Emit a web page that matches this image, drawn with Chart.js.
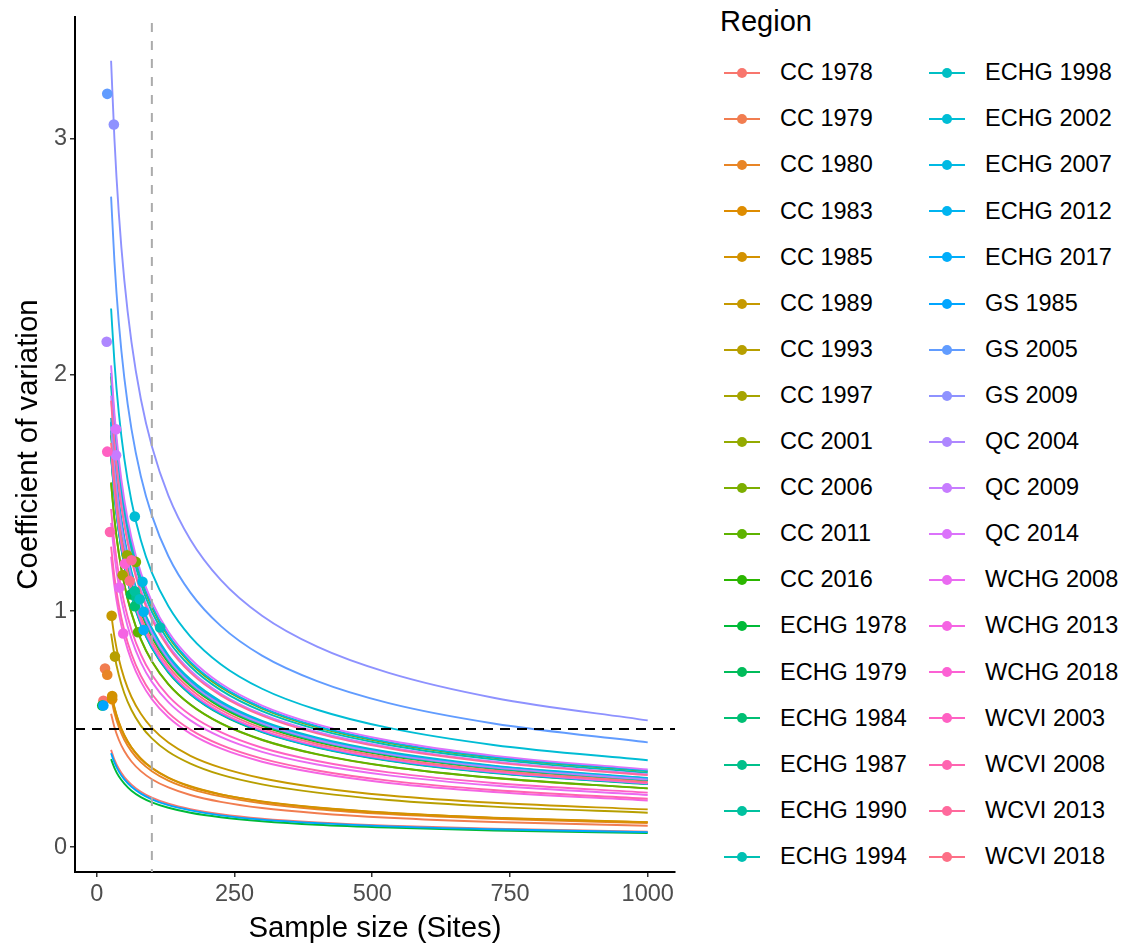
<!DOCTYPE html>
<html>
<head>
<meta charset="utf-8">
<script src="https://cdn.jsdelivr.net/npm/chart.js@4/dist/chart.umd.min.js"></script>
<style>
  html, body { margin: 0; padding: 0; background: #fff; }
  #wrap { position: relative; width: 1126px; height: 947px; background: #fff; overflow: hidden;
          font-family: "Liberation Sans", Arial, sans-serif; }
  #plot { position: absolute; left: 0; top: 0; }
  .lg-title { position: absolute; left: 720px; top: 7px; font-size: 29px; line-height: 29px; color: #000; white-space: nowrap; }
  .lg-line { position: absolute; width: 36px; height: 2px; }
  .lg-dot { position: absolute; width: 10px; height: 10px; border-radius: 50%; }
  .lg-text { position: absolute; font-size: 23.5px; line-height: 23.5px; color: #000; white-space: nowrap; }
</style>
</head>
<body>
<div id="wrap">
  <canvas id="plot" width="700" height="947"></canvas>
  <div id="legend"></div>
</div>
<script>
// Survey regions and years
const regions = [
  "CC 1978", "CC 1979", "CC 1980", "CC 1983", "CC 1985", "CC 1989", "CC 1993", "CC 1997", "CC 2001",
  "CC 2006", "CC 2011", "CC 2016", "ECHG 1978", "ECHG 1979", "ECHG 1984", "ECHG 1987", "ECHG 1990", "ECHG 1994",
  "ECHG 1998", "ECHG 2002", "ECHG 2007", "ECHG 2012", "ECHG 2017", "GS 1985", "GS 2005", "GS 2009",
  "QC 2004", "QC 2009", "QC 2014", "WCHG 2008", "WCHG 2013", "WCHG 2018", "WCVI 2003", "WCVI 2008",
  "WCVI 2013", "WCVI 2018"
];

// Observed number of sites and coefficient of variation for each survey
const observedSites = [12, 15, 19, 28, 28, 27, 33, 47, 55, 71, 75, 68, 10, 62, 69, 72, 69, 115,
                       78, 69, 83, 85, 85, 12, 19, 31, 18, 35, 35, 41, 48, 51, 19, 24, 63, 60];
const observedCV = [0.62, 0.757, 0.73, 0.627, 0.64, 0.98, 0.807, 1.152, 1.236, 1.208, 0.91, 1.08,
                    0.60, 1.07, 1.02, 1.06, 1.084, 0.93, 1.05, 1.40, 1.124, 0.997, 0.92, 0.60,
                    3.19, 3.06, 2.14, 1.66, 1.77, 1.10, 0.905, 1.20, 1.675, 1.335, 1.215, 1.127];

// Projected CV at these sample sizes (one row per survey)
const sampleSizes = [26, 32, 40, 50, 63, 80, 100, 130, 170, 225, 300, 400, 530, 720, 1000];
const projectedCV = [
  [0.412, 0.371, 0.332, 0.297, 0.265, 0.235, 0.210, 0.184, 0.161, 0.140, 0.121, 0.105, 0.091, 0.078, 0.066],
  [0.565, 0.509, 0.455, 0.407, 0.363, 0.322, 0.288, 0.253, 0.221, 0.192, 0.166, 0.144, 0.125, 0.107, 0.091],
  [0.632, 0.569, 0.509, 0.455, 0.406, 0.360, 0.322, 0.282, 0.247, 0.215, 0.186, 0.161, 0.140, 0.120, 0.102],
  [0.655, 0.590, 0.528, 0.472, 0.421, 0.373, 0.334, 0.293, 0.256, 0.223, 0.193, 0.167, 0.145, 0.124, 0.106],
  [0.659, 0.594, 0.531, 0.475, 0.423, 0.376, 0.336, 0.295, 0.258, 0.224, 0.194, 0.168, 0.146, 0.125, 0.106],
  [0.990, 0.893, 0.798, 0.714, 0.636, 0.565, 0.505, 0.443, 0.387, 0.337, 0.292, 0.253, 0.219, 0.188, 0.160],
  [0.904, 0.815, 0.729, 0.652, 0.581, 0.515, 0.461, 0.404, 0.354, 0.307, 0.266, 0.231, 0.200, 0.172, 0.146],
  [1.541, 1.389, 1.243, 1.112, 0.990, 0.879, 0.786, 0.689, 0.603, 0.524, 0.454, 0.393, 0.341, 0.293, 0.249],
  [1.798, 1.621, 1.450, 1.297, 1.155, 1.025, 0.917, 0.804, 0.703, 0.611, 0.529, 0.459, 0.398, 0.342, 0.290],
  [1.993, 1.796, 1.606, 1.437, 1.280, 1.136, 1.016, 0.891, 0.779, 0.677, 0.587, 0.508, 0.441, 0.379, 0.321],
  [1.545, 1.393, 1.246, 1.114, 0.993, 0.881, 0.788, 0.691, 0.604, 0.525, 0.455, 0.394, 0.342, 0.294, 0.249],
  [1.745, 1.573, 1.407, 1.259, 1.121, 0.995, 0.890, 0.781, 0.683, 0.593, 0.514, 0.445, 0.387, 0.332, 0.281],
  [0.373, 0.336, 0.300, 0.269, 0.239, 0.212, 0.190, 0.167, 0.146, 0.127, 0.110, 0.095, 0.083, 0.071, 0.060],
  [1.653, 1.490, 1.333, 1.192, 1.062, 0.942, 0.843, 0.739, 0.647, 0.562, 0.487, 0.422, 0.366, 0.314, 0.267],
  [1.661, 1.497, 1.339, 1.198, 1.067, 0.947, 0.847, 0.743, 0.650, 0.565, 0.489, 0.424, 0.368, 0.316, 0.268],
  [1.763, 1.589, 1.421, 1.271, 1.133, 1.005, 0.899, 0.789, 0.690, 0.599, 0.519, 0.450, 0.391, 0.335, 0.284],
  [1.765, 1.591, 1.423, 1.273, 1.134, 1.006, 0.900, 0.789, 0.690, 0.600, 0.520, 0.450, 0.391, 0.335, 0.285],
  [1.955, 1.762, 1.576, 1.410, 1.256, 1.115, 0.997, 0.874, 0.765, 0.665, 0.576, 0.499, 0.433, 0.372, 0.315],
  [1.818, 1.639, 1.466, 1.311, 1.168, 1.036, 0.927, 0.813, 0.711, 0.618, 0.535, 0.464, 0.403, 0.345, 0.293],
  [2.281, 2.056, 1.839, 1.645, 1.465, 1.300, 1.163, 1.020, 0.892, 0.775, 0.671, 0.582, 0.505, 0.433, 0.368],
  [2.008, 1.810, 1.619, 1.448, 1.290, 1.145, 1.024, 0.898, 0.785, 0.683, 0.591, 0.512, 0.445, 0.382, 0.324],
  [1.802, 1.625, 1.453, 1.300, 1.158, 1.027, 0.919, 0.806, 0.705, 0.613, 0.531, 0.460, 0.399, 0.343, 0.291],
  [1.663, 1.499, 1.341, 1.199, 1.068, 0.948, 0.848, 0.744, 0.650, 0.565, 0.490, 0.424, 0.368, 0.316, 0.268],
  [0.398, 0.359, 0.321, 0.287, 0.256, 0.227, 0.203, 0.178, 0.156, 0.135, 0.117, 0.102, 0.088, 0.076, 0.064],
  [2.755, 2.484, 2.221, 1.987, 1.770, 1.571, 1.405, 1.232, 1.078, 0.937, 0.811, 0.703, 0.610, 0.524, 0.444],
  [3.330, 3.002, 2.685, 2.401, 2.139, 1.898, 1.698, 1.489, 1.302, 1.132, 0.980, 0.849, 0.738, 0.633, 0.537],
  [1.781, 1.605, 1.436, 1.284, 1.144, 1.015, 0.908, 0.796, 0.696, 0.605, 0.524, 0.454, 0.394, 0.338, 0.287],
  [1.912, 1.724, 1.542, 1.379, 1.228, 1.090, 0.975, 0.855, 0.748, 0.650, 0.563, 0.488, 0.424, 0.363, 0.308],
  [2.040, 1.839, 1.644, 1.471, 1.310, 1.163, 1.040, 0.912, 0.798, 0.693, 0.600, 0.520, 0.452, 0.388, 0.329],
  [1.373, 1.237, 1.107, 0.990, 0.882, 0.783, 0.700, 0.614, 0.537, 0.467, 0.404, 0.350, 0.304, 0.261, 0.221],
  [1.230, 1.108, 0.991, 0.887, 0.790, 0.701, 0.627, 0.550, 0.481, 0.418, 0.362, 0.314, 0.272, 0.234, 0.198],
  [1.681, 1.515, 1.355, 1.212, 1.080, 0.958, 0.857, 0.752, 0.657, 0.571, 0.495, 0.429, 0.372, 0.319, 0.271],
  [1.432, 1.290, 1.154, 1.032, 0.920, 0.816, 0.730, 0.640, 0.560, 0.487, 0.421, 0.365, 0.317, 0.272, 0.231],
  [1.273, 1.147, 1.026, 0.918, 0.818, 0.726, 0.649, 0.569, 0.498, 0.433, 0.375, 0.325, 0.282, 0.242, 0.205],
  [1.891, 1.704, 1.524, 1.363, 1.215, 1.078, 0.964, 0.846, 0.739, 0.643, 0.557, 0.482, 0.419, 0.359, 0.305],
  [1.712, 1.543, 1.380, 1.235, 1.100, 0.976, 0.873, 0.766, 0.670, 0.582, 0.504, 0.437, 0.379, 0.325, 0.276]
];

// Axis ticks and reference levels
const xTicks = [0, 250, 500, 750, 1000];
const yTicks = [0, 1, 2, 3];
const cvTarget = 0.5;
const siteTarget = 100;

// Evenly spaced hues in HCL space (l = 65, c = 100), as in the default discrete palette
function hcl(h, c, l) {
  const hr = h * Math.PI / 180;
  const u = c * Math.cos(hr), v = c * Math.sin(hr);
  const Xn = 95.047, Yn = 100, Zn = 108.883;
  const den = Xn + 15 * Yn + 3 * Zn;
  const un = 4 * Xn / den, vn = 9 * Yn / den;
  const Y = l > 8 ? Yn * Math.pow((l + 16) / 116, 3) : Yn * l / 903.3;
  const up = u / (13 * l) + un, vp = v / (13 * l) + vn;
  const X = Y * 9 * up / (4 * vp);
  const Z = Y * (12 - 3 * up - 20 * vp) / (4 * vp);
  const x = X / 100, y = Y / 100, z = Z / 100;
  const lin = [
    3.2404542 * x - 1.5371385 * y - 0.4985314 * z,
    -0.9692660 * x + 1.8760108 * y + 0.0415560 * z,
    0.0556434 * x - 0.2040259 * y + 1.0572252 * z
  ];
  const ch = lin.map(t => {
    const g = t <= 0.0031308 ? 12.92 * t : 1.055 * Math.pow(t, 1 / 2.4) - 0.055;
    return Math.round(Math.min(1, Math.max(0, g)) * 255);
  });
  return "rgb(" + ch.join(",") + ")";
}
const palette = regions.map((_, i) => hcl(15 + 360 * i / regions.length, 100, 65));

// Datasets: observed points on top, projected curves underneath
const datasets = [];
regions.forEach((name, i) => {
  datasets.push({
    label: name + " observed",
    type: "scatter",
    data: [{ x: observedSites[i], y: observedCV[i] }],
    backgroundColor: palette[i],
    borderColor: palette[i],
    borderWidth: 0,
    pointRadius: 5.3,
    order: 50 - i
  });
});
regions.forEach((name, i) => {
  datasets.push({
    label: name,
    type: "scatter",
    showLine: true,
    data: sampleSizes.map((n, k) => ({ x: n, y: projectedCV[i][k] })),
    borderColor: palette[i],
    backgroundColor: palette[i],
    borderWidth: 1.9,
    pointRadius: 0,
    cubicInterpolationMode: "monotone",
    order: 100 - i
  });
});

// Dashed reference lines for the CV target and the site count
const refLines = {
  id: "refLines",
  afterDatasetsDraw(chart) {
    const { ctx, chartArea, scales } = chart;
    ctx.save();
    ctx.lineWidth = 2;
    ctx.setLineDash([9, 9]);
    ctx.strokeStyle = "#ababab";
    const px = scales.x.getPixelForValue(siteTarget);
    ctx.beginPath();
    ctx.moveTo(px, chartArea.top + 6);
    ctx.lineTo(px, chartArea.bottom);
    ctx.stroke();
    ctx.setLineDash([10, 7]);
    ctx.strokeStyle = "#000";
    const py = scales.y.getPixelForValue(cvTarget);
    ctx.beginPath();
    ctx.moveTo(chartArea.left, py);
    ctx.lineTo(chartArea.right, py);
    ctx.stroke();
    ctx.restore();
  }
};

const fontFamily = "'Liberation Sans', Arial, sans-serif";
Chart.defaults.font.family = fontFamily;

new Chart(document.getElementById("plot"), {
  type: "scatter",
  data: { datasets },
  options: {
    responsive: false,
    animation: false,
    devicePixelRatio: 1,
    layout: { padding: { top: 12, right: 25, left: 0, bottom: 0 } },
    plugins: { legend: { display: false }, tooltip: { enabled: false } },
    scales: {
      x: {
        type: "linear",
        min: -39.5,
        max: 1049.5,
        afterFit: s => { s.height = 75; },
        afterBuildTicks: s => { s.ticks = xTicks.map(v => ({ value: v })); },
        ticks: { color: "#4d4d4d", font: { size: 23.5 }, padding: 3, maxRotation: 0, autoSkip: false,
                 callback: v => String(v) },
        grid: { display: true, drawOnChartArea: false, drawTicks: true, tickLength: 5, color: "#333", lineWidth: 1.5 },
        border: { display: true, color: "#000", width: 2 },
        title: { display: true, text: "Sample size (Sites)", color: "#000", font: { size: 29.4 }, padding: { top: 0, bottom: 0 } }
      },
      y: {
        type: "linear",
        min: -0.105,
        max: 3.515,
        afterFit: s => { s.width = 75; },
        afterBuildTicks: s => { s.ticks = yTicks.map(v => ({ value: v })); },
        ticks: { color: "#4d4d4d", font: { size: 23.5 }, padding: 3, autoSkip: false,
                 callback: v => String(v) },
        grid: { display: true, drawOnChartArea: false, drawTicks: true, tickLength: 5, color: "#333", lineWidth: 1.5 },
        border: { display: true, color: "#000", width: 2 },
        title: { display: true, text: "Coefficient of variation", color: "#000", font: { size: 29.4 }, padding: { top: 11, bottom: 0 } }
      }
    }
  },
  plugins: [refLines]
});

// Two-column legend keyed by region
const legend = document.getElementById("legend");
const title = document.createElement("div");
title.className = "lg-title";
title.textContent = "Region";
legend.appendChild(title);
const perColumn = Math.ceil(regions.length / 2);
regions.forEach((name, i) => {
  const col = Math.floor(i / perColumn), row = i % perColumn;
  const cy = 73 + row * 46.1;
  const lineLeft = col === 0 ? 724 : 929;
  const textLeft = col === 0 ? 780 : 985;
  const line = document.createElement("div");
  line.className = "lg-line";
  line.style.left = lineLeft + "px";
  line.style.top = (cy - 1) + "px";
  line.style.background = palette[i];
  const dot = document.createElement("div");
  dot.className = "lg-dot";
  dot.style.left = (lineLeft + 13) + "px";
  dot.style.top = (cy - 5) + "px";
  dot.style.background = palette[i];
  const text = document.createElement("div");
  text.className = "lg-text";
  text.style.left = textLeft + "px";
  text.style.top = (cy - 11.75) + "px";
  text.textContent = name;
  legend.appendChild(line);
  legend.appendChild(dot);
  legend.appendChild(text);
});
</script>
</body>
</html>
